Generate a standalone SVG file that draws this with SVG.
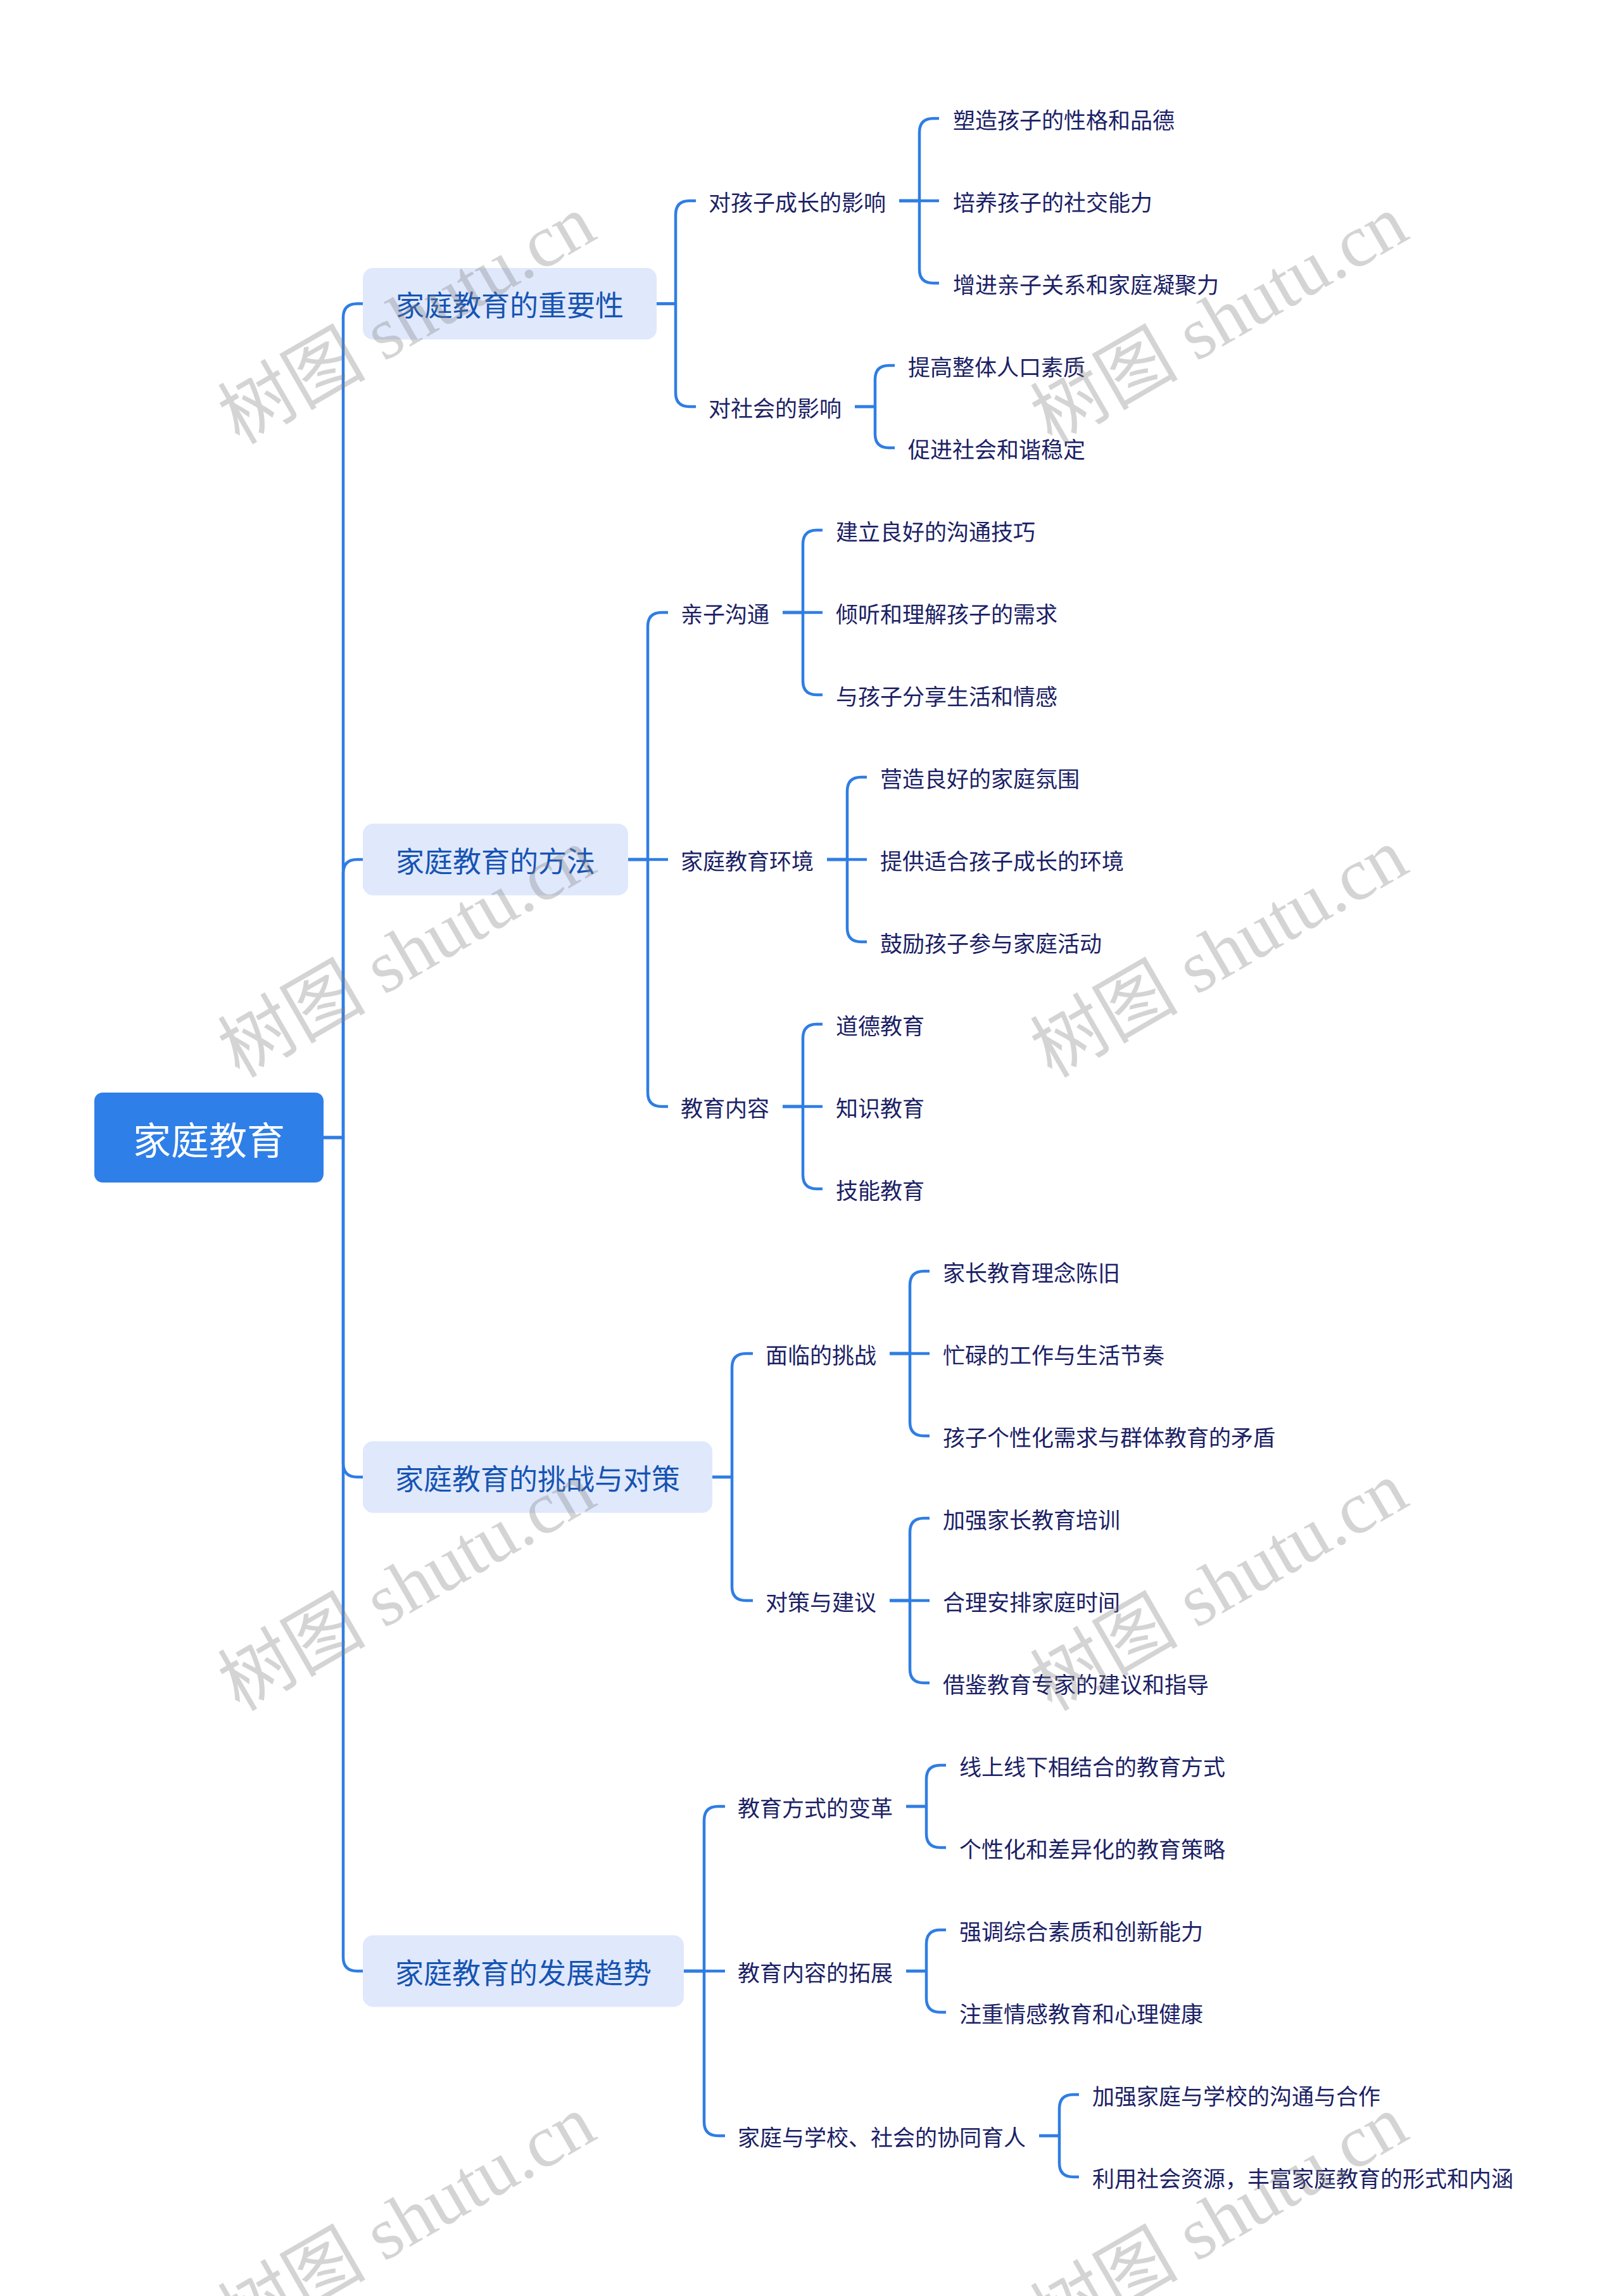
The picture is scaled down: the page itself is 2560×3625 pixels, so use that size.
<svg xmlns="http://www.w3.org/2000/svg" width="2560" height="3625" viewBox="0 0 2560 3625">
<defs>
<style>
.cn{fill:none;stroke:#2f7de4;stroke-width:4.5;stroke-linecap:butt;stroke-linejoin:round}
.root rect{fill:#2f7fe8}
.root text{fill:#ffffff;font-size:60px}
.l1 rect{fill:#e0e8fc}
.l1 text{fill:#1654b2;font-size:45px}
.l2 text,.lf text{fill:#1b2165;font-size:35px}
text{font-family:"Noto Sans CJK SC","Noto Sans",sans-serif;dominant-baseline:central}
.wm{font-family:"Liberation Serif","Noto Sans CJK SC",serif;font-size:117px;fill:#808080;fill-opacity:0.34;dominant-baseline:auto}
</style>
</defs>
<rect x="0" y="0" width="2560" height="3625" fill="#ffffff"/>
<g id="connectors">
<path class="cn" d="M511,1796 H542 V501.5 Q542,479.5 564,479.5 H573"/>
<path class="cn" d="M511,1796 H542 V1379 Q542,1357 564,1357 H573"/>
<path class="cn" d="M511,1796 H542 V2310 Q542,2332 564,2332 H573"/>
<path class="cn" d="M511,1796 H542 V3090 Q542,3112 564,3112 H573"/>
<path class="cn" d="M1037,479.5 H1067 V339 Q1067,317 1089,317 H1099"/>
<path class="cn" d="M1037,479.5 H1067 V620 Q1067,642 1089,642 H1099"/>
<path class="cn" d="M1420,317 H1452 V209 Q1452,187 1474,187 H1483"/>
<path class="cn" d="M1420,317 H1483"/>
<path class="cn" d="M1420,317 H1452 V425 Q1452,447 1474,447 H1483"/>
<path class="cn" d="M1350,642 H1382 V599 Q1382,577 1404,577 H1413"/>
<path class="cn" d="M1350,642 H1382 V685 Q1382,707 1404,707 H1413"/>
<path class="cn" d="M992,1357 H1023 V989 Q1023,967 1045,967 H1055"/>
<path class="cn" d="M992,1357 H1055"/>
<path class="cn" d="M992,1357 H1023 V1725 Q1023,1747 1045,1747 H1055"/>
<path class="cn" d="M1236,967 H1268 V859 Q1268,837 1290,837 H1299"/>
<path class="cn" d="M1236,967 H1299"/>
<path class="cn" d="M1236,967 H1268 V1075 Q1268,1097 1290,1097 H1299"/>
<path class="cn" d="M1306,1357 H1338 V1249 Q1338,1227 1360,1227 H1369"/>
<path class="cn" d="M1306,1357 H1369"/>
<path class="cn" d="M1306,1357 H1338 V1465 Q1338,1487 1360,1487 H1369"/>
<path class="cn" d="M1236,1747 H1268 V1639 Q1268,1617 1290,1617 H1299"/>
<path class="cn" d="M1236,1747 H1299"/>
<path class="cn" d="M1236,1747 H1268 V1855 Q1268,1877 1290,1877 H1299"/>
<path class="cn" d="M1125,2332 H1156 V2159 Q1156,2137 1178,2137 H1189"/>
<path class="cn" d="M1125,2332 H1156 V2505 Q1156,2527 1178,2527 H1189"/>
<path class="cn" d="M1405,2137 H1437 V2029 Q1437,2007 1459,2007 H1468"/>
<path class="cn" d="M1405,2137 H1468"/>
<path class="cn" d="M1405,2137 H1437 V2245 Q1437,2267 1459,2267 H1468"/>
<path class="cn" d="M1405,2527 H1437 V2419 Q1437,2397 1459,2397 H1468"/>
<path class="cn" d="M1405,2527 H1468"/>
<path class="cn" d="M1405,2527 H1437 V2635 Q1437,2657 1459,2657 H1468"/>
<path class="cn" d="M1080,3112 H1112 V2874 Q1112,2852 1134,2852 H1145"/>
<path class="cn" d="M1080,3112 H1145"/>
<path class="cn" d="M1080,3112 H1112 V3350 Q1112,3372 1134,3372 H1145"/>
<path class="cn" d="M1431,2852 H1463 V2809 Q1463,2787 1485,2787 H1494"/>
<path class="cn" d="M1431,2852 H1463 V2895 Q1463,2917 1485,2917 H1494"/>
<path class="cn" d="M1431,3112 H1463 V3069 Q1463,3047 1485,3047 H1494"/>
<path class="cn" d="M1431,3112 H1463 V3155 Q1463,3177 1485,3177 H1494"/>
<path class="cn" d="M1641,3372 H1673 V3329 Q1673,3307 1695,3307 H1704"/>
<path class="cn" d="M1641,3372 H1673 V3415 Q1673,3437 1695,3437 H1704"/>
</g>
<g id="root" class="root"><rect x="149" y="1725" width="362" height="142" rx="13"/><text x="330" y="1796" text-anchor="middle">家庭教育</text></g>
<g id="n1" class="l1"><rect x="573" y="423" width="464" height="113" rx="16"/><text x="805" y="479.5" text-anchor="middle">家庭教育的重要性</text></g>
<g id="n2" class="l1"><rect x="573" y="1300.5" width="419" height="113" rx="16"/><text x="782.5" y="1357" text-anchor="middle">家庭教育的方法</text></g>
<g id="n3" class="l1"><rect x="573" y="2275.5" width="552" height="113" rx="16"/><text x="849" y="2332" text-anchor="middle">家庭教育的挑战与对策</text></g>
<g id="n4" class="l1"><rect x="573" y="3055.5" width="507" height="113" rx="16"/><text x="826.5" y="3112" text-anchor="middle">家庭教育的发展趋势</text></g>
<g id="n1a" class="l2"><text x="1119" y="317">对孩子成长的影响</text></g>
<g id="n1b" class="l2"><text x="1119" y="642">对社会的影响</text></g>
<g id="n2a" class="l2"><text x="1075" y="967">亲子沟通</text></g>
<g id="n2b" class="l2"><text x="1075" y="1357">家庭教育环境</text></g>
<g id="n2c" class="l2"><text x="1075" y="1747">教育内容</text></g>
<g id="n3a" class="l2"><text x="1209" y="2137">面临的挑战</text></g>
<g id="n3b" class="l2"><text x="1209" y="2527">对策与建议</text></g>
<g id="n4a" class="l2"><text x="1165" y="2852">教育方式的变革</text></g>
<g id="n4b" class="l2"><text x="1165" y="3112">教育内容的拓展</text></g>
<g id="n4c" class="l2"><text x="1165" y="3372">家庭与学校、社会的协同育人</text></g>
<g id="lf0" class="lf"><text x="1505" y="187">塑造孩子的性格和品德</text></g>
<g id="lf1" class="lf"><text x="1505" y="317">培养孩子的社交能力</text></g>
<g id="lf2" class="lf"><text x="1505" y="447">增进亲子关系和家庭凝聚力</text></g>
<g id="lf3" class="lf"><text x="1434" y="577">提高整体人口素质</text></g>
<g id="lf4" class="lf"><text x="1434" y="707">促进社会和谐稳定</text></g>
<g id="lf5" class="lf"><text x="1320" y="837">建立良好的沟通技巧</text></g>
<g id="lf6" class="lf"><text x="1320" y="967">倾听和理解孩子的需求</text></g>
<g id="lf7" class="lf"><text x="1320" y="1097">与孩子分享生活和情感</text></g>
<g id="lf8" class="lf"><text x="1390" y="1227">营造良好的家庭氛围</text></g>
<g id="lf9" class="lf"><text x="1390" y="1357">提供适合孩子成长的环境</text></g>
<g id="lf10" class="lf"><text x="1390" y="1487">鼓励孩子参与家庭活动</text></g>
<g id="lf11" class="lf"><text x="1320" y="1617">道德教育</text></g>
<g id="lf12" class="lf"><text x="1320" y="1747">知识教育</text></g>
<g id="lf13" class="lf"><text x="1320" y="1877">技能教育</text></g>
<g id="lf14" class="lf"><text x="1489" y="2007">家长教育理念陈旧</text></g>
<g id="lf15" class="lf"><text x="1489" y="2137">忙碌的工作与生活节奏</text></g>
<g id="lf16" class="lf"><text x="1489" y="2267">孩子个性化需求与群体教育的矛盾</text></g>
<g id="lf17" class="lf"><text x="1489" y="2397">加强家长教育培训</text></g>
<g id="lf18" class="lf"><text x="1489" y="2527">合理安排家庭时间</text></g>
<g id="lf19" class="lf"><text x="1489" y="2657">借鉴教育专家的建议和指导</text></g>
<g id="lf20" class="lf"><text x="1515" y="2787">线上线下相结合的教育方式</text></g>
<g id="lf21" class="lf"><text x="1515" y="2917">个性化和差异化的教育策略</text></g>
<g id="lf22" class="lf"><text x="1515" y="3047">强调综合素质和创新能力</text></g>
<g id="lf23" class="lf"><text x="1515" y="3177">注重情感教育和心理健康</text></g>
<g id="lf24" class="lf"><text x="1725" y="3307">加强家庭与学校的沟通与合作</text></g>
<g id="lf25" class="lf"><text x="1725" y="3437">利用社会资源，丰富家庭教育的形式和内涵</text></g>
<g id="watermarks">
<text class="wm" transform="rotate(-30 378 703)" x="378" y="703">树图 shutu.cn</text>
<text class="wm" transform="rotate(-30 1661 703)" x="1661" y="703">树图 shutu.cn</text>
<text class="wm" transform="rotate(-30 378 1703)" x="378" y="1703">树图 shutu.cn</text>
<text class="wm" transform="rotate(-30 1661 1703)" x="1661" y="1703">树图 shutu.cn</text>
<text class="wm" transform="rotate(-30 378 2703)" x="378" y="2703">树图 shutu.cn</text>
<text class="wm" transform="rotate(-30 1661 2703)" x="1661" y="2703">树图 shutu.cn</text>
<text class="wm" transform="rotate(-30 378 3703)" x="378" y="3703">树图 shutu.cn</text>
<text class="wm" transform="rotate(-30 1661 3703)" x="1661" y="3703">树图 shutu.cn</text>
</g>
</svg>
